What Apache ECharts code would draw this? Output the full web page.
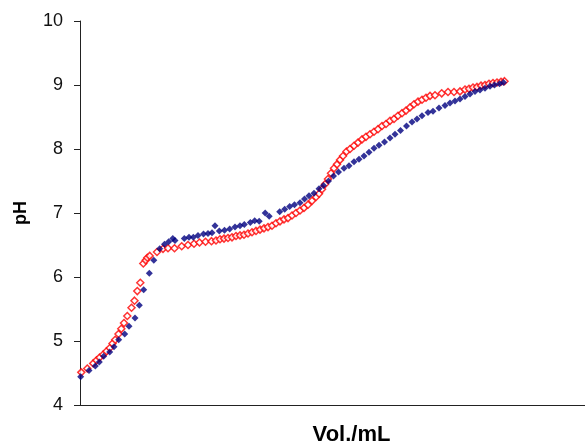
<!DOCTYPE html>
<html>
<head>
<meta charset="utf-8">
<script src="https://cdn.jsdelivr.net/npm/echarts@6/dist/echarts.min.js"></script>
<style>
  html, body { margin: 0; padding: 0; background: #fff; overflow: hidden; }
  #chart { width: 585px; height: 443px; }
</style>
</head>
<body>
<div id="chart"></div>
<script>
// Titration curves: pH against added volume (mL)
const blueVol = [0.07, 0.9, 1.53, 1.93, 2.37, 2.97, 3.4, 3.87, 4.47, 4.9, 5.5, 5.93, 6.37, 6.93, 7.38, 7.97, 8.45, 8.87, 9.28, 9.5,
  10.43, 10.9, 11.33, 11.8, 12.35, 12.8, 13.2, 13.5, 13.93, 14.45, 14.97, 15.5, 16.0, 16.43, 17.03, 17.47, 17.92, 18.52, 18.92,
  19.97, 20.47, 20.97, 21.45, 22.0, 22.45, 22.9, 23.4, 23.9, 24.35, 24.85, 25.35, 25.85, 26.4, 26.9, 27.4, 27.9, 28.4, 28.9,
  29.4, 29.9, 30.45, 31.0, 31.5, 32.05, 32.65, 33.2, 33.7, 34.2, 34.8, 35.3, 35.9, 36.5, 37.0, 37.5, 38.0, 38.5, 39.0, 39.5,
  40.0, 40.5, 41.0, 41.45, 41.95, 42.35];
const bluePH = [4.44, 4.54, 4.61, 4.67, 4.76, 4.83, 4.91, 5.02, 5.11, 5.23, 5.36, 5.56, 5.80, 6.06, 6.26, 6.44, 6.51, 6.55, 6.60, 6.57,
  6.60, 6.62, 6.62, 6.65, 6.67, 6.68, 6.69, 6.80, 6.72, 6.73, 6.75, 6.78, 6.80, 6.82, 6.85, 6.88, 6.87, 7.00, 6.95,
  7.02, 7.06, 7.10, 7.13, 7.16, 7.22, 7.27, 7.31, 7.38, 7.43, 7.50, 7.58, 7.64, 7.70, 7.74, 7.80, 7.84, 7.89, 7.95,
  8.01, 8.06, 8.11, 8.17, 8.23, 8.29, 8.36, 8.42, 8.47, 8.52, 8.57, 8.59, 8.64, 8.68, 8.72, 8.75, 8.78, 8.82, 8.86, 8.90,
  8.92, 8.95, 8.98, 9.00, 9.02, 9.04];

const redVol = [0.13, 0.73, 1.32, 1.65, 1.95, 2.32, 2.65, 2.98, 3.25, 3.52, 3.85, 4.13, 4.4, 4.73, 5.15, 5.45, 5.73, 6.03,
  6.33, 6.57, 6.73, 6.97, 7.7, 8.3, 8.8, 9.45, 10.17, 10.8, 11.4, 11.95, 12.55, 13.15, 13.6, 14.0, 14.4, 14.8, 15.2, 15.6,
  16.0, 16.4, 16.8, 17.2, 17.6, 18.0, 18.4, 18.8, 19.2, 19.6, 20.0, 20.4, 20.8, 21.2, 21.6, 22.0, 22.4, 22.8, 23.2, 23.6,
  23.9, 24.2, 24.5, 24.8, 25.1, 25.4, 25.7, 26.0, 26.3, 26.65, 27.0, 27.4, 27.8, 28.2, 28.6, 29.0, 29.4, 29.8, 30.2, 30.6,
  31.0, 31.4, 31.8, 32.2, 32.6, 33.0, 33.4, 33.8, 34.2, 34.6, 35.0, 35.5, 36.17, 36.8, 37.4, 38.0, 38.5, 38.9, 39.3, 39.7,
  40.1, 40.5, 40.9, 41.3, 41.7, 42.1, 42.45];
const redPH = [4.51, 4.57, 4.65, 4.70, 4.74, 4.79, 4.84, 4.89, 4.96, 5.02, 5.11, 5.19, 5.28, 5.39, 5.52, 5.63, 5.78, 5.91,
  6.21, 6.26, 6.30, 6.33, 6.39, 6.44, 6.45, 6.45, 6.48, 6.50, 6.52, 6.54, 6.55, 6.56, 6.57, 6.59, 6.60, 6.61, 6.62, 6.64,
  6.65, 6.66, 6.68, 6.70, 6.72, 6.74, 6.76, 6.78, 6.80, 6.84, 6.87, 6.90, 6.92, 6.96, 7.00, 7.04, 7.08, 7.13, 7.19, 7.25,
  7.30, 7.37, 7.45, 7.53, 7.62, 7.70, 7.76, 7.83, 7.89, 7.96, 8.00, 8.05, 8.10, 8.15, 8.19, 8.23, 8.27, 8.31, 8.36, 8.39,
  8.44, 8.47, 8.52, 8.56, 8.60, 8.65, 8.70, 8.74, 8.77, 8.80, 8.83, 8.84, 8.87, 8.89, 8.89, 8.90, 8.93, 8.94, 8.96, 8.97,
  8.99, 9.00, 9.02, 9.03, 9.04, 9.05, 9.06];

const yTicks = [4, 5, 6, 7, 8, 9, 10];

const pairs = (xs, ys) => xs.map((x, i) => [x, ys[i]]);

const chart = echarts.init(document.getElementById('chart'), null, { renderer: 'canvas' });
const font = 'Liberation Sans, Arial, sans-serif';

chart.setOption({
  animation: false,
  backgroundColor: '#ffffff',
  grid: { left: 80, top: 21, right: 0, bottom: 38, containLabel: false, outerBoundsMode: 'none' },
  xAxis: {
    type: 'value',
    min: 0,
    max: 50.5,
    name: 'Vol./mL',
    nameLocation: 'middle',
    nameGap: 19,
    nameTextStyle: { fontFamily: font, fontSize: 22, fontWeight: 'bold', color: '#000', padding: [0, 0, 0, 38] },
    axisLine: { show: true, lineStyle: { color: '#222', width: 1 } },
    axisTick: { show: false },
    axisLabel: { show: false },
    splitLine: { show: false }
  },
  yAxis: {
    type: 'value',
    min: yTicks[0],
    max: yTicks[yTicks.length - 1],
    interval: 1,
    name: 'pH',
    nameLocation: 'middle',
    nameGap: 50,
    nameRotate: 90,
    nameTextStyle: { fontFamily: font, fontSize: 18, fontWeight: 'bold', color: '#000' },
    axisLine: { show: true, lineStyle: { color: '#222', width: 1 } },
    axisTick: { show: true, length: 6, inside: false, lineStyle: { color: '#222' } },
    axisLabel: { fontFamily: font, fontSize: 18, color: '#111', margin: 17 },
    splitLine: { show: false }
  },
  series: [
    {
      type: 'scatter',
      data: pairs(redVol, redPH),
      symbol: 'diamond',
      symbolSize: 7,
      itemStyle: { color: '#ffffff', borderColor: '#ff0000', borderWidth: 1.5 },
      z: 2
    },
    {
      type: 'scatter',
      data: pairs(blueVol, bluePH),
      symbol: 'diamond',
      symbolSize: 7,
      itemStyle: { color: '#000080' },
      z: 3
    }
  ]
});
</script>
</body>
</html>
